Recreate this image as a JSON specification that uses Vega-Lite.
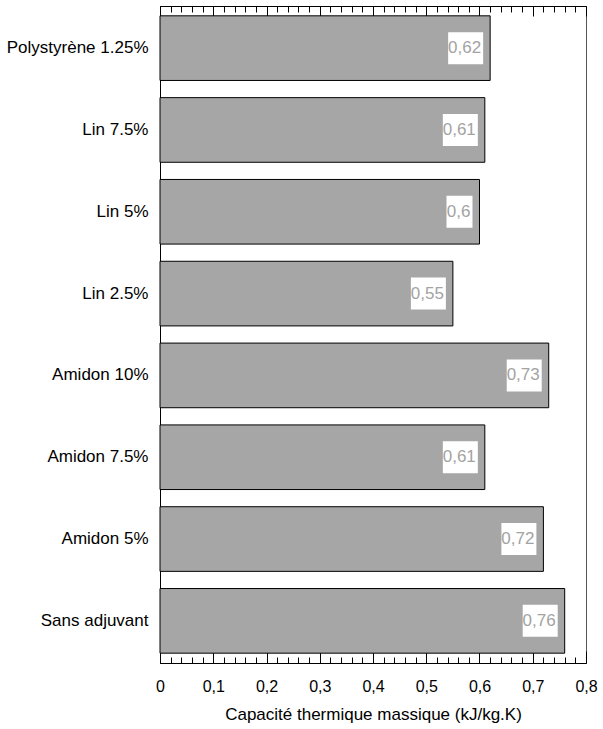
{
  "$schema": "https://vega.github.io/schema/vega-lite/v6.json",
  "width": 426,
  "height": 657,
  "autosize": "none",
  "padding": {"left": 160, "top": 6, "right": 17, "bottom": 66},
  "background": "white",
  "config": {
    "locale": {"number": {"decimal": ",", "thousands": " ", "grouping": [3], "currency": ["", " €"]}},
    "view": {"stroke": "#555", "strokeWidth": 1},
    "font": "Liberation Sans, Arial, sans-serif",
    "axis": {
      "labelFont": "Liberation Sans, Arial, sans-serif",
      "titleFont": "Liberation Sans, Arial, sans-serif",
      "labelColor": "black",
      "titleColor": "black",
      "domainColor": "black",
      "tickColor": "black",
      "grid": false
    }
  },
  "data": {
    "values": [
      {"label": "Polystyrène 1.25%", "v": 0.62},
      {"label": "Lin 7.5%", "v": 0.61},
      {"label": "Lin 5%", "v": 0.6},
      {"label": "Lin 2.5%", "v": 0.55},
      {"label": "Amidon 10%", "v": 0.73},
      {"label": "Amidon 7.5%", "v": 0.61},
      {"label": "Amidon 5%", "v": 0.72},
      {"label": "Sans adjuvant", "v": 0.76}
    ]
  },
  "encoding": {
    "y": {
      "field": "label",
      "type": "nominal",
      "sort": null,
      "scale": {"paddingInner": 0.21, "paddingOuter": 0.12},
      "axis": {
        "title": null,
        "ticks": false,
        "labelFontSize": 17,
        "labelPadding": 12,
        "domainColor": "black"
      }
    }
  },
  "layer": [
    {
      "mark": {"type": "bar", "fill": "#a6a6a6", "stroke": "black", "strokeWidth": 1},
      "encoding": {
        "x": {
          "field": "v",
          "type": "quantitative",
          "scale": {"domain": [0, 0.8], "nice": false},
          "axis": {
            "orient": "bottom",
            "title": "Capacité thermique massique (kJ/kg.K)",
            "titleFontSize": 17,
            "titleFontWeight": "normal",
            "titlePadding": 6,
            "values": [0,0.02,0.04,0.06,0.08,0.1,0.12,0.14,0.16,0.18,0.2,0.22,0.24,0.26,0.28,0.3,0.32,0.34,0.36,0.38,0.4,0.42,0.44,0.46,0.48,0.5,0.52,0.54,0.56,0.58,0.6,0.62,0.64,0.66,0.68,0.7,0.72,0.74,0.76,0.78,0.8],
            "labelExpr": "abs(datum.value*10 - round(datum.value*10)) < 0.001 ? replace(format(datum.value, '~g'), '.', ',') : ''",
            "labelFontSize": 16,
            "labelFlush": false,
            "labelOverlap": false,
            "labelPadding": 27,
            "tickSize": {"condition": {"test": "abs(datum.value*10 - round(datum.value*10)) < 0.001", "value": -12}, "value": -6}
          }
        }
      }
    },
    {
      "transform": [{"filter": "datum.v != 0.6"}],
      "mark": {"type": "tick", "color": "white", "opacity": 1, "thickness": 35, "size": 32, "xOffset": -24.5},
      "encoding": {
        "x": {
          "field": "v",
          "type": "quantitative",
          "axis": {
            "orient": "top",
            "title": null,
            "labels": false,
            "values": [0,0.02,0.04,0.06,0.08,0.1,0.12,0.14,0.16,0.18,0.2,0.22,0.24,0.26,0.28,0.3,0.32,0.34,0.36,0.38,0.4,0.42,0.44,0.46,0.48,0.5,0.52,0.54,0.56,0.58,0.6,0.62,0.64,0.66,0.68,0.7,0.72,0.74,0.76,0.78,0.8],
            "tickSize": {"condition": {"test": "abs(datum.value*10 - round(datum.value*10)) < 0.001", "value": -10}, "value": -6}
          }
        }
      }
    },
    {
      "transform": [{"filter": "datum.v == 0.6"}],
      "mark": {"type": "tick", "color": "white", "opacity": 1, "thickness": 26, "size": 32, "xOffset": -20},
      "encoding": {
        "x": {"field": "v", "type": "quantitative", "axis": null}
      }
    },
    {
      "mark": {"type": "text", "align": "right", "baseline": "middle", "dx": -9, "fontSize": 17, "color": "#a3a3a3", "font": "Liberation Sans, Arial, sans-serif"},
      "encoding": {
        "x": {"field": "v", "type": "quantitative", "axis": null},
        "text": {"field": "v", "type": "quantitative", "format": "~g"}
      }
    }
  ],
  "resolve": {"axis": {"x": "independent"}}
}
